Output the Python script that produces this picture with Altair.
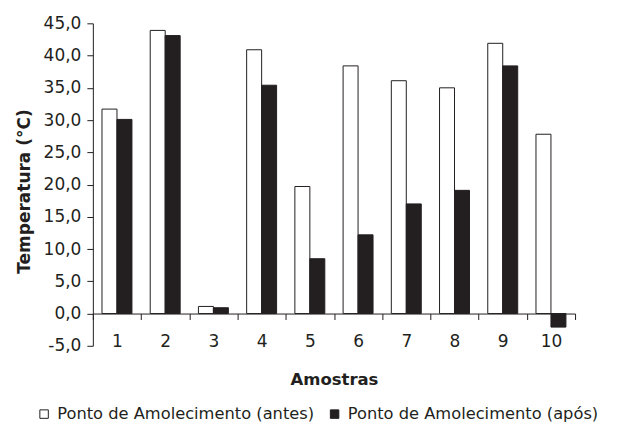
import altair as alt
import pandas as pd

amostras = ["1", "2", "3", "4", "5", "6", "7", "8", "9", "10"]
antes = [31.7, 43.9, 1.1, 40.9, 19.7, 38.4, 36.1, 35.0, 41.9, 27.8]
apos = [30.1, 43.1, 0.9, 35.4, 8.5, 12.2, 17.0, 19.1, 38.4, -2.1]
series = ["Ponto de Amolecimento (antes)", "Ponto de Amolecimento (após)"]
y_ticks = [-5, 0, 5, 10, 15, 20, 25, 30, 35, 40, 45]

rows = []
for i, a in enumerate(amostras):
    rows.append({"amostra": a, "serie": series[0], "valor": antes[i]})
    rows.append({"amostra": a, "serie": series[1], "valor": apos[i]})
df = pd.DataFrame(rows)

W, H = 483, 323
ymin, ymax = -5, 45
x_offset_px = -H * (0 - ymin) / (ymax - ymin)

FONT = "DejaVu Sans"
INK = "#231f20"

chart = alt.Chart(df).mark_bar(stroke=INK, strokeWidth=1).encode(
    x=alt.X(
        "amostra:N",
        sort=amostras,
        scale=alt.Scale(paddingInner=0, paddingOuter=0),
        axis=alt.Axis(
            title="Amostras",
            labelAngle=0,
            offset=x_offset_px,
            tickBand="extent",
            tickSize=6,
            labelPadding=14,
            titlePadding=22,
            labelFontSize=17,
            titleFontSize=16.5,
            titleFontWeight="bold",
        ),
    ),
    xOffset=alt.XOffset(
        "serie:N",
        sort=series,
        scale=alt.Scale(paddingInner=0, paddingOuter=0.61),
    ),
    y=alt.Y(
        "valor:Q",
        scale=alt.Scale(domain=[ymin, ymax], nice=False, zero=False),
        axis=alt.Axis(
            title="Temperatura (°C)",
            values=y_ticks,
            labelExpr="datum.value + ',0'",
            grid=False,
            tickSize=6,
            labelPadding=6,
            titlePadding=10,
            titleY=168,
            labelFontSize=17,
            titleFontSize=17,
            titleFontWeight="bold",
        ),
    ),
    fill=alt.Fill(
        "serie:N",
        sort=series,
        scale=alt.Scale(domain=series, range=["white", INK]),
        legend=alt.Legend(
            title=None,
            orient="none",
            direction="horizontal",
            legendX=-57,
            legendY=383,
            symbolType="square",
            symbolSize=72,
            symbolStrokeColor=INK,
            symbolStrokeWidth=1,
            labelFontSize=16.3,
            labelLimit=0,
            labelOffset=5,
            columnPadding=12,
        ),
    ),
).properties(
    width=W,
    height=H,
    autosize=alt.AutoSizeParams(type="none"),
    padding={"left": 85, "top": 15, "right": 36, "bottom": 78},
).configure_view(
    stroke=None
).configure_axis(
    domainColor=INK,
    tickColor=INK,
    labelColor=INK,
    titleColor=INK,
    labelFont=FONT,
    titleFont=FONT,
    domainWidth=1,
    tickWidth=1,
).configure_legend(
    labelFont=FONT,
    labelColor=INK,
)

chart.save("out.html", embed_options={"renderer": "svg", "actions": False})
